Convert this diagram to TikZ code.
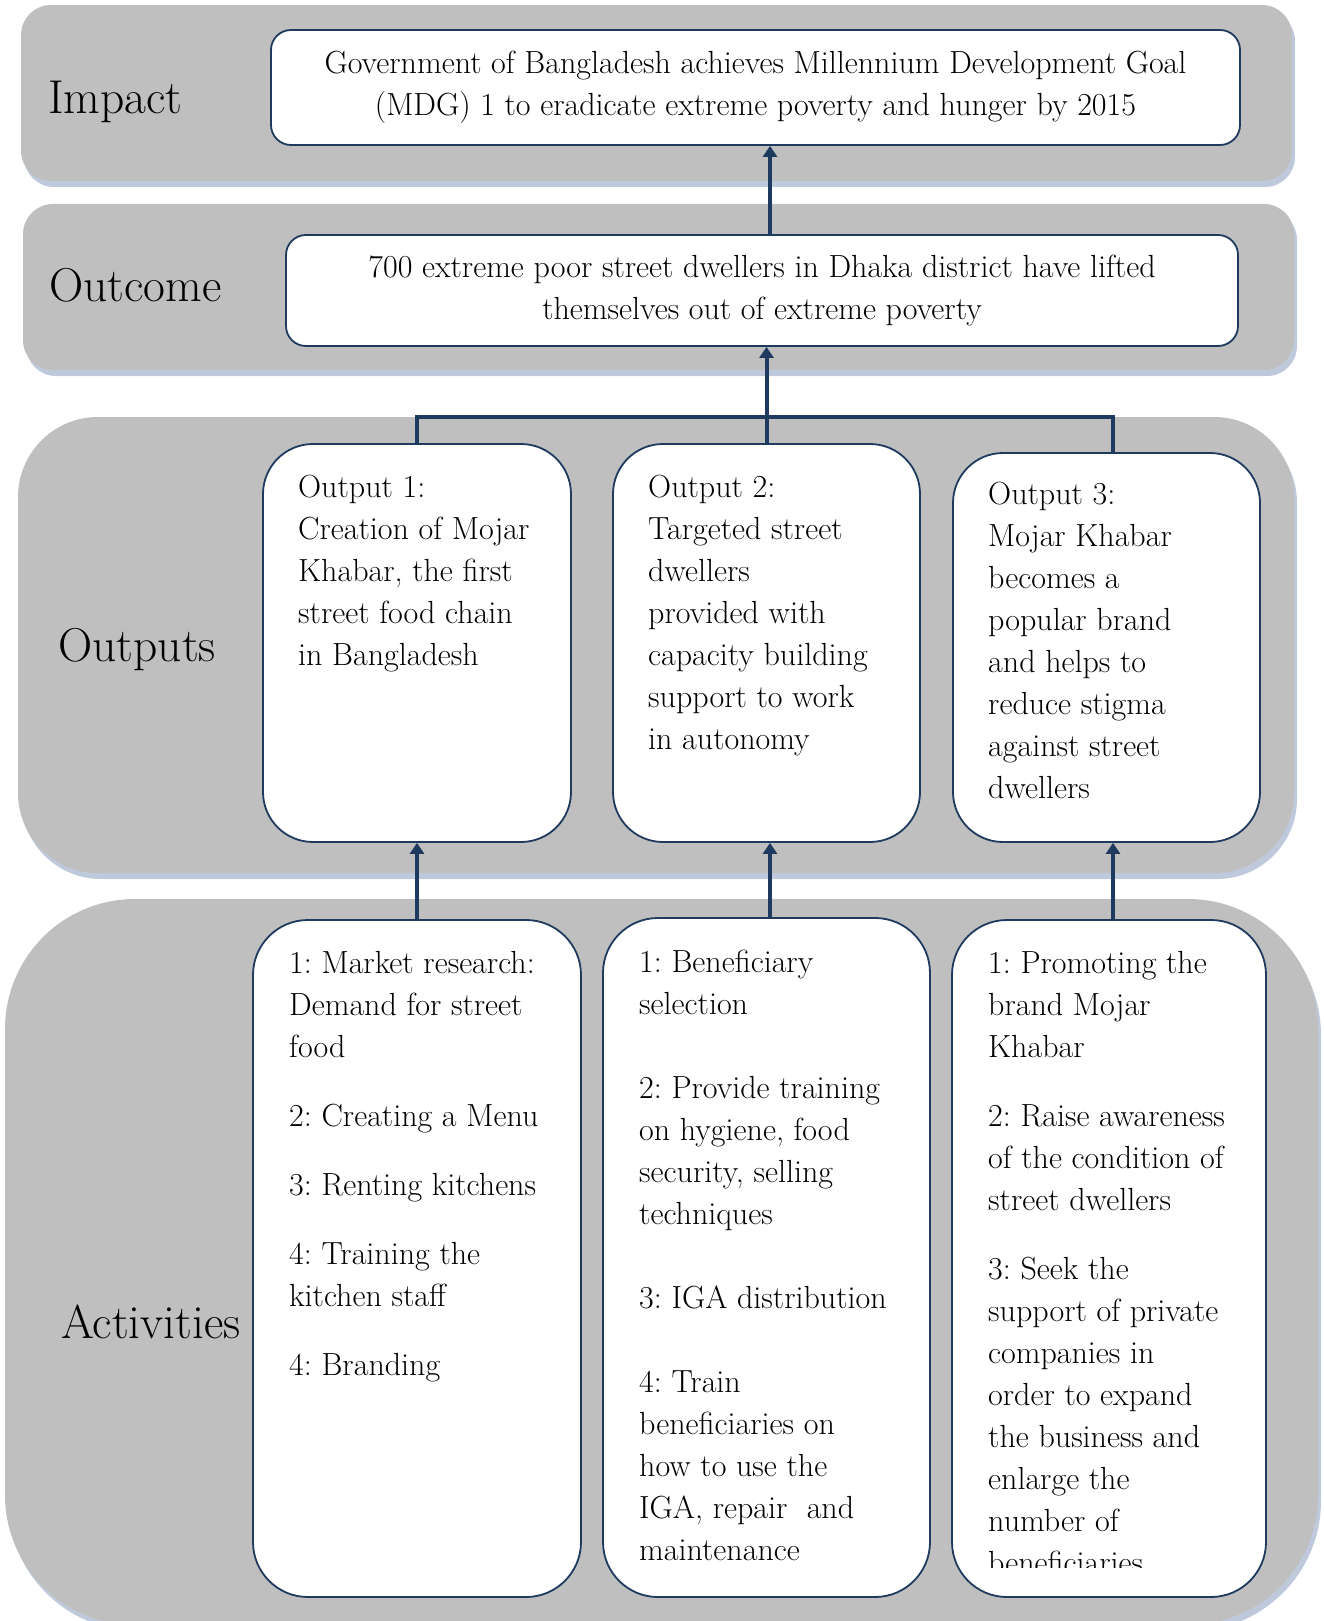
\documentclass[tikz,border=0pt]{standalone}
\usetikzlibrary{positioning,arrows.meta,shadows}
\definecolor{bandgray}{HTML}{BFBFBF}
\definecolor{navy}{HTML}{1F3A5F}
\definecolor{shadowblue}{HTML}{A3B4CC}
\tikzset{
x=1pt, y=-1pt, % one unit is one pixel of the page, y runs downwards
band/.style={fill=bandgray, draw=none, drop shadow={shadow xshift=3pt, shadow yshift=-6pt, fill=shadowblue, opacity=.7}}, % the grey rows
box/.style={draw=navy, line width=1.8pt, fill=white}, % the white boxes
body/.style={font=\fontsize{32}{42}\selectfont\frenchspacing, inner sep=0pt, align=left}, % text in the boxes
tag/.style={font=\fontsize{47.5}{52}\selectfont, inner sep=0pt, anchor=west}, % names of the rows
link/.style={draw=navy, line width=4pt}, % plain connector
up/.style={link, -{Triangle[width=14pt,length=11pt]}}, % connector with a head
}
\begin{document}
\begin{tikzpicture}
\useasboundingbox (0,0) rectangle (1323,1621);
% rows
\node[band, rounded corners=30pt, minimum width=1271pt, minimum height=176pt] (impactrow) at (656.5,93) {};
\node[band, rounded corners=30pt, minimum width=1271pt, minimum height=166pt] (outcomerow) at (658.5,287) {};
\node[band, rounded corners=80pt, minimum width=1276pt, minimum height=456pt] (outputrow) at (656,645) {};
\node[band, rounded corners=130pt, minimum width=1313pt, minimum height=726pt] (activityrow) at (661.5,1262) {};
\node[tag] (impacttag) at (48,102) {Impact};
\node[tag] (outcometag) at (49,285) {Outcome};
\node[tag] (outputtag) at (58,650) {Outputs};
\node[tag] (activitytag) at (61,1322) {Activities};
% impact and outcome
\node[box, body, align=center, rounded corners=20pt, minimum width=969pt, minimum height=115pt] (impact) at (755.5,87.5)
 {Government of Bangladesh achieves Millennium Development Goal\\(MDG) 1 to eradicate extreme poverty and hunger by 2015};
\node[box, body, align=center, rounded corners=20pt, minimum width=952pt, minimum height=111pt] (outcome) at (762,290.5)
 {700 extreme poor street dwellers in Dhaka district have lifted\\themselves out of extreme poverty};
% outputs
\node[box, rounded corners=50pt, minimum width=308pt, minimum height=398pt] (o1) at (417,643) {};
\node[box, rounded corners=50pt, minimum width=307pt, minimum height=398pt] (o2) at (766.5,643) {};
\node[box, rounded corners=50pt, minimum width=307pt, minimum height=389pt] (o3) at (1106.5,647.5) {};
\node[body, anchor=north west] (o1txt) at (298,475) {Output 1:\\Creation of Mojar\\Khabar, the first\\street food chain\\in Bangladesh};
\node[body, anchor=north west] (o2txt) at (648,475) {Output 2:\\Targeted street\\dwellers\\provided with\\capacity building\\support to work\\in autonomy};
\node[body, anchor=north west] (o3txt) at (988,482) {Output 3:\\Mojar Khabar\\becomes a\\popular brand\\and helps to\\reduce stigma\\against street\\dwellers};
% activities
\node[box, rounded corners=55pt, minimum width=328pt, minimum height=677pt] (a1) at (417,1258.5) {};
\node[box, rounded corners=55pt, minimum width=327pt, minimum height=679pt] (a2) at (766.5,1257.5) {};
\node[box, rounded corners=55pt, minimum width=314pt, minimum height=677pt] (a3) at (1109,1258.5) {};
\node[body, anchor=north west] (a1txt) at (289,951) {1: Market research:\\Demand for street\\food\\[27pt]2: Creating a Menu\\[27pt]3: Renting kitchens\\[27pt]4: Training the\\kitchen staff\\[27pt]4: Branding};
\node[body, anchor=north west] (a2txt) at (639,950) {1: Beneficiary\\selection\\[42pt]2: Provide training\\on hygiene, food\\security, selling\\techniques\\[42pt]3: IGA distribution\\[42pt]4: Train\\beneficiaries on\\how to use the\\IGA, repair\ \ and\\maintenance};
\begin{scope}
\clip (0,0) rectangle (1323,1567);
\node[body, anchor=north west] (a3txt) at (988,951) {1: Promoting the\\brand Mojar\\Khabar\\[27pt]2: Raise awareness\\of the condition of\\street dwellers\\[27pt]3: Seek the\\support of private\\companies in\\order to expand\\the business and\\enlarge the\\number of\\beneficiaries};
\end{scope}
% connectors
\coordinate (bar) at (0,417);
\coordinate (right) at (1113,0);
\coordinate (mid) at (770,0);
\draw[link] (o1.north) -- (o1.north |- bar) -| (right |- o3.north);
\draw[up] (o2.north) -- (o2.north |- outcome.south);
\draw[up] (mid |- outcome.north) -- (mid |- impact.south);
\draw[up] (a1.north) -- (o1.south);
\draw[up] (mid |- a2.north) -- (mid |- o2.south);
\draw[up] (right |- a3.north) -- (right |- o3.south);
\end{tikzpicture}
\end{document}
